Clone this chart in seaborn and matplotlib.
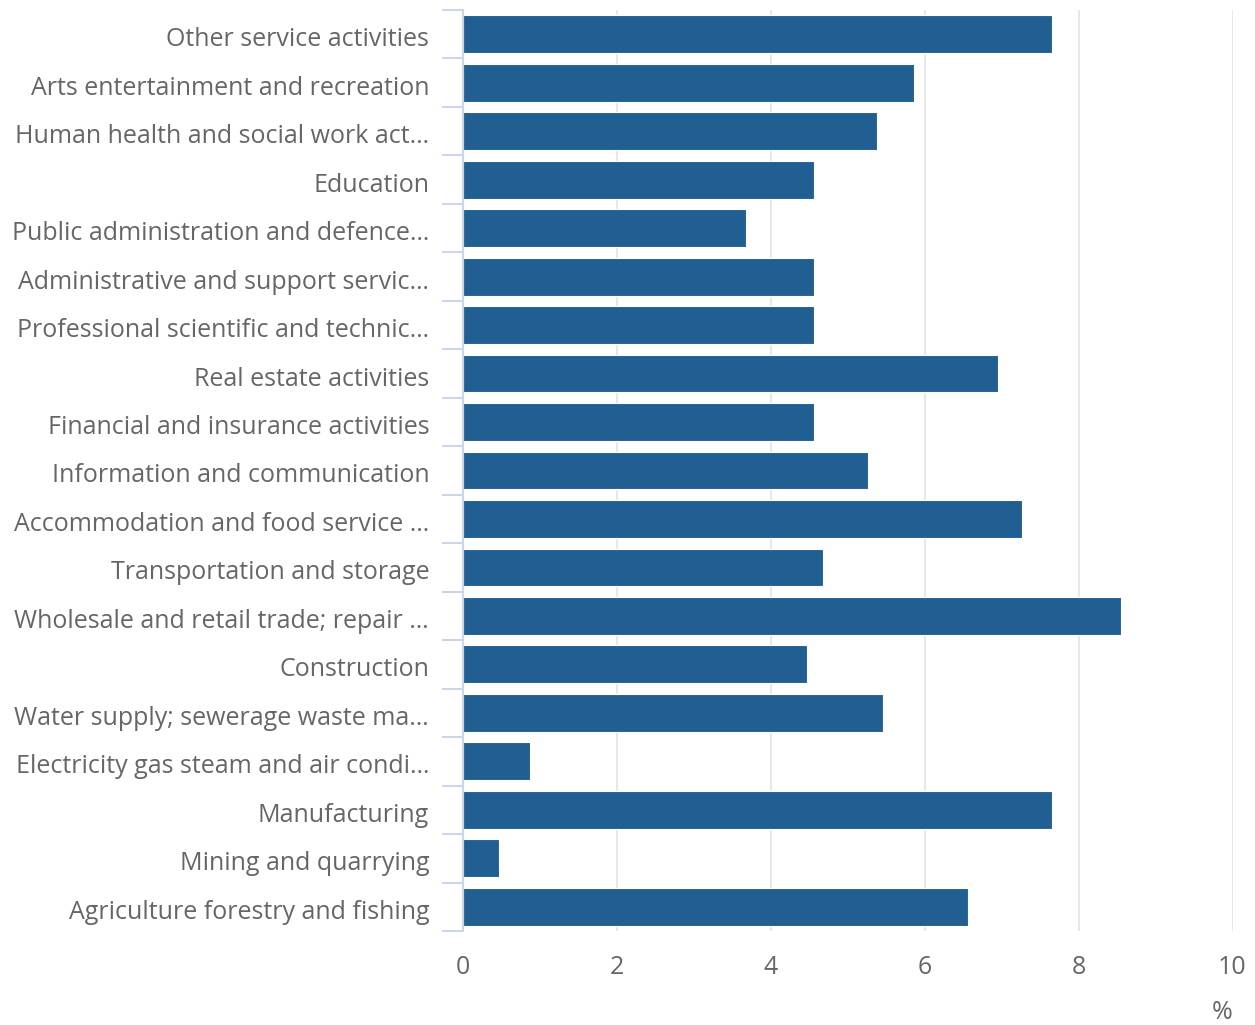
import matplotlib
matplotlib.use("Agg")
import matplotlib.pyplot as plt
import matplotlib.transforms as mtransforms
import seaborn as sns
import pandas as pd
from matplotlib.ticker import FixedLocator

categories = [
    "Other service activities",
    "Arts entertainment and recreation",
    "Human health and social work act…",
    "Education",
    "Public administration and defence…",
    "Administrative and support servic…",
    "Professional scientific and technic…",
    "Real estate activities",
    "Financial and insurance activities",
    "Information and communication",
    "Accommodation and food service …",
    "Transportation and storage",
    "Wholesale and retail trade; repair …",
    "Construction",
    "Water supply; sewerage waste ma…",
    "Electricity gas steam and air condi…",
    "Manufacturing",
    "Mining and quarrying",
    "Agriculture forestry and fishing",
]
values = [7.65, 5.87, 5.38, 4.57, 3.68, 4.57, 4.57, 6.95, 4.57, 5.27, 7.27, 4.68,
          8.55, 4.47, 5.46, 0.88, 7.65, 0.48, 6.57]
x_ticks = [0, 2, 4, 6, 8, 10]
x_label = "%"

df = pd.DataFrame({"category": categories, "value": values})

sns.set_theme(style="white")
plt.rcParams["font.family"] = ["Open Sans", "DejaVu Sans"]

text_color = "#666666"
axis_color = "#ccd6eb"
grid_color = "#e6e6e6"
bar_color = "#215f93"

fig = plt.figure(figsize=(12.55, 10.25), dpi=100)
ax = fig.add_axes([462.5 / 1255, 1 - 931 / 1025, 770 / 1255, 921 / 1025])

sns.barplot(data=df, x="value", y="category", orient="h", color=bar_color,
            saturation=1, width=0.78, edgecolor="white", linewidth=0.8, ax=ax, zorder=3)

ax.set_xlim(0, 10)
ax.set_ylim(len(categories) - 0.5, -0.5)
ax.set_xticks(x_ticks)
ax.set_xticklabels([str(t) for t in x_ticks])
ax.xaxis.grid(True, color=grid_color, linewidth=1.3, zorder=0)
ax.yaxis.grid(False)

for s in ["top", "right", "bottom"]:
    ax.spines[s].set_visible(False)
ax.spines["left"].set_color(axis_color)
ax.spines["left"].set_linewidth(1.5)
ax.spines["left"].set_zorder(4)

ax.yaxis.set_minor_locator(FixedLocator([i - 0.5 for i in range(len(categories) + 1)]))
ax.tick_params(axis="y", which="major", length=0, pad=24, labelsize=18, labelcolor=text_color)
ax.tick_params(axis="y", which="minor", length=15, width=1.5, color=axis_color, left=True)
ax.tick_params(axis="x", which="major", length=0, pad=17.5, labelsize=18, labelcolor=text_color)

offset = mtransforms.ScaledTranslation(0, -2.5 / 100, fig.dpi_scale_trans)
for lbl in ax.get_yticklabels():
    lbl.set_transform(lbl.get_transform() + offset)

ax.set_ylabel("")
ax.set_xlabel(x_label, loc="right", fontsize=18, color=text_color, labelpad=14)

fig.savefig("out.png", dpi=100)
